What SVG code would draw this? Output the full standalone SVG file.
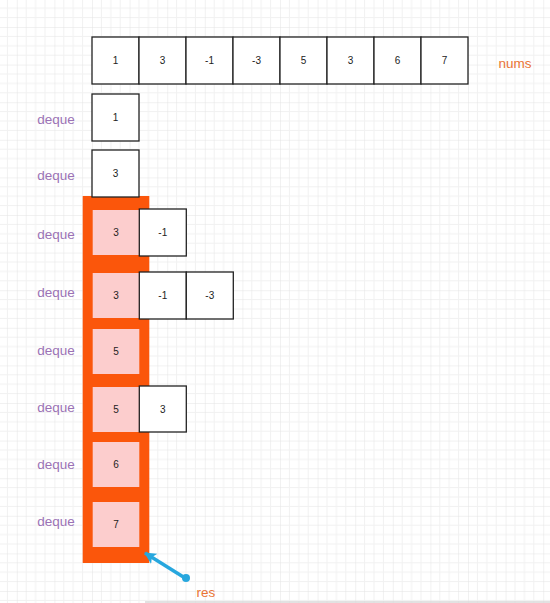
<svg xmlns="http://www.w3.org/2000/svg" width="550" height="603" viewBox="0 0 550 603">
<style>
.cell{fill:#ffffff;stroke:#222222;stroke-width:1.3}
.pink{fill:#fccdcd;stroke:none}
.num{font-family:"Liberation Sans",Arial,sans-serif;font-size:10px;fill:#222222;text-anchor:middle;dominant-baseline:central}
.lbl{font-family:"Liberation Sans",Arial,sans-serif;font-size:13.5px;fill:#9b72b5;text-anchor:middle;dominant-baseline:central}
.org{font-family:"Liberation Sans",Arial,sans-serif;font-size:13.5px;fill:#ea7434;text-anchor:middle;dominant-baseline:central}
</style>
<defs>
<pattern id="grid" x="16.8" y="27" width="37.6" height="37.6" patternUnits="userSpaceOnUse">
<path d="M9.4 0V37.6M18.8 0V37.6M28.2 0V37.6M0 9.4H37.6M0 18.8H37.6M0 28.2H37.6" stroke="#f1f1f1" stroke-width="1" fill="none"/>
<path d="M0 0V37.6M0 0H37.6" stroke="#e3e3e3" stroke-width="1" fill="none"/>
</pattern>
<marker id="ah" markerWidth="13" markerHeight="12" refX="11" refY="6" orient="auto" markerUnits="userSpaceOnUse" viewBox="0 0 13 12">
<path d="M0 0L12 6L0 12L3 6Z" fill="#27a7de"/>
</marker>
</defs>
<rect width="550" height="603" fill="#ffffff"/>
<rect width="550" height="603" fill="url(#grid)"/>
<line x1="145" y1="602" x2="550" y2="602" stroke="#d8d8d8" stroke-width="1.5"/>

<g id="nums">
<rect class="cell" x="92" y="37" width="47" height="47"/><text class="num" x="115.5" y="60.5">1</text>
<rect class="cell" x="139" y="37" width="47" height="47"/><text class="num" x="162.5" y="60.5">3</text>
<rect class="cell" x="186" y="37" width="47" height="47"/><text class="num" x="209.5" y="60.5">-1</text>
<rect class="cell" x="233" y="37" width="47" height="47"/><text class="num" x="256.5" y="60.5">-3</text>
<rect class="cell" x="280" y="37" width="47" height="47"/><text class="num" x="303.5" y="60.5">5</text>
<rect class="cell" x="327" y="37" width="47" height="47"/><text class="num" x="350.5" y="60.5">3</text>
<rect class="cell" x="374" y="37" width="47" height="47"/><text class="num" x="397.5" y="60.5">6</text>
<rect class="cell" x="421" y="37" width="47" height="47"/><text class="num" x="444.5" y="60.5">7</text>
<text class="org" x="515" y="63">nums</text>
</g>

<g id="res-frame">
<rect x="82.7" y="196" width="66.6" height="367" fill="#fb560b"/>
</g>

<g id="row1">
<text class="lbl" x="56" y="119">deque</text>
<rect class="cell" x="92" y="94" width="47" height="47"/><text class="num" x="115.5" y="117.5">1</text>
</g>
<g id="row2">
<text class="lbl" x="56" y="175">deque</text>
<rect class="cell" x="92" y="150" width="47" height="47"/><text class="num" x="115.5" y="173.5">3</text>
</g>
<g id="row3">
<text class="lbl" x="56" y="234">deque</text>
<rect class="pink" x="92.7" y="210" width="46.6" height="45"/><text class="num" x="116" y="232.5">3</text>
<rect class="cell" x="139.3" y="209" width="47" height="47"/><text class="num" x="162.8" y="232.5">-1</text>
</g>
<g id="row4">
<text class="lbl" x="56" y="292">deque</text>
<rect class="pink" x="92.7" y="273" width="46.6" height="45"/><text class="num" x="116" y="295.5">3</text>
<rect class="cell" x="139.3" y="272" width="47" height="47"/><text class="num" x="162.8" y="295.5">-1</text>
<rect class="cell" x="186.3" y="272" width="47" height="47"/><text class="num" x="209.8" y="295.5">-3</text>
</g>
<g id="row5">
<text class="lbl" x="56" y="350">deque</text>
<rect class="pink" x="92.7" y="329" width="46.6" height="45"/><text class="num" x="116" y="351.5">5</text>
</g>
<g id="row6">
<text class="lbl" x="56" y="407">deque</text>
<rect class="pink" x="92.7" y="387" width="46.6" height="45"/><text class="num" x="116" y="409">5</text>
<rect class="cell" x="139.3" y="386" width="47" height="46"/><text class="num" x="162.8" y="409">3</text>
</g>
<g id="row7">
<text class="lbl" x="56" y="464">deque</text>
<rect class="pink" x="92.7" y="442" width="46.6" height="45"/><text class="num" x="116" y="464.5">6</text>
</g>
<g id="row8">
<text class="lbl" x="56" y="521">deque</text>
<rect class="pink" x="92.7" y="502" width="46.6" height="45"/><text class="num" x="116" y="524.5">7</text>
</g>

<g id="connectors">
<line x1="185" y1="578" x2="145" y2="553" stroke="#27a7de" stroke-width="3.5" marker-end="url(#ah)"/>
<circle cx="186" cy="578" r="4" fill="#27a7de"/>
</g>
<text id="res" class="org" x="206" y="592">res</text>
</svg>
